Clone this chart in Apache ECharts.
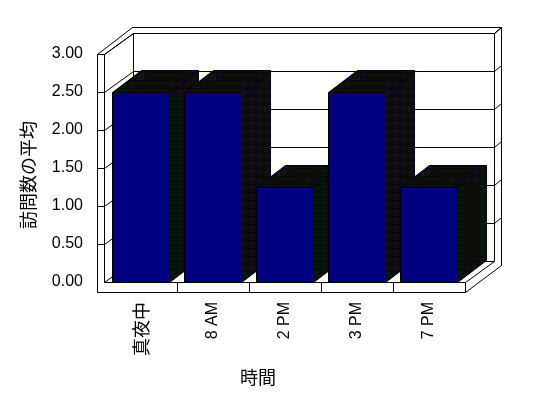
<!DOCTYPE html>
<html><head><meta charset="utf-8">
<script src="https://cdn.jsdelivr.net/npm/echarts@6/dist/echarts.min.js"></script>
<style>html,body{margin:0;padding:0;background:#fff}#c{width:548px;height:398px}</style>
</head><body><div id="c"></div>
<script>
const categories = ['真夜中', '8 AM', '2 PM', '3 PM', '7 PM'];
const values = [2.5, 2.5, 1.25, 2.5, 1.25];
const yTicks = [0, 0.5, 1, 1.5, 2, 2.5, 3];
const yTitle = '訪問数の平均';
const xTitle = '時間';

// 3D styling constants
const DX = 29, DY = -21, BDY = -22;
const BX = 7, BY = -6;
const WT = 7, FT = 10;
const LINE = {stroke: '#000', lineWidth: 1, fill: null};

const pc = document.createElement('canvas');
pc.width = 2; pc.height = 2;
const g2 = pc.getContext('2d');
g2.fillStyle = '#000'; g2.fillRect(0, 0, 2, 2);
g2.fillStyle = '#000080'; g2.fillRect(1, 0, 1, 1); g2.fillRect(0, 1, 1, 1);
const dither = {image: pc, repeat: 'repeat'};

function snap(v) { return Math.round(v) + 0.5; }
function line(x1, y1, x2, y2) {
  return {type: 'line', shape: {x1, y1, x2, y2}, style: LINE, silent: true};
}
function poly(points, fill) {
  return {type: 'polygon', shape: {points}, style: {fill, stroke: '#000', lineWidth: 1}, silent: true};
}

function renderWalls(params, api) {
  const n = categories.length;
  const bw = api.size([1, 0])[0];
  const yMax = yTicks[yTicks.length - 1];
  const l = Math.round(api.coord([0, 0])[0] - bw / 2) - 0.5;
  const r = snap(api.coord([n - 1, 0])[0] + bw / 2);
  const b = snap(api.coord([0, 0])[1]);
  const t = snap(api.coord([0, yMax])[1]);
  const ol = l - WT, fb = b + FT;
  const bl = l + DX, br = r + DX, bt = t + DY, bb = b + DY;
  const ch = [];
  ch.push(poly([[ol, t], [ol + DX + 6, bt + BY], [br + BX, bt + BY], [br + BX, fb + DY + BY], [r, fb], [ol, fb]], '#fff'));
  ch.push(poly([[bl, bt], [br, bt], [br, bb], [bl, bb]], '#fff'));
  ch.push(line(l, t, bl, bt));
  ch.push(line(ol, t, l, t));
  ch.push(line(l, t, l, b));
  ch.push(line(l, b, r, b));
  ch.push(line(r, b, r, fb));
  ch.push(line(r, b, br, bb));
  ch.push(line(l, b, bl, bb));
  ch.push(line(br, bt, br + BX, bt + BY));
  yTicks.forEach(v => {
    if (v === 0) return;
    const y = snap(api.coord([0, v])[1]);
    ch.push(line(ol, y, l, y));
    ch.push(line(l, y, bl, y + DY));
    ch.push(line(bl, y + DY, br, y + DY));
    ch.push(line(br, y + DY, br + BX, y + DY + BY));
  });
  for (let i = 1; i < n; i++) {
    const x = snap(api.coord([i, 0])[0] - bw / 2);
    ch.push(line(x, b, x, fb));
  }
  return {type: 'group', children: ch};
}

function renderBar(params, api) {
  const i = api.value(0), v = api.value(1);
  const c = api.coord([i, v]);
  const z = api.coord([i, 0]);
  const bw = api.size([1, 0])[0];
  const w = bw * 0.79;
  const xl = Math.floor(c[0] - w / 2) + 0.5;
  const xr = Math.floor(c[0] + w / 2) + 0.5;
  const yt = snap(c[1]), yb = snap(z[1]);
  return {type: 'group', children: [
    poly([[xr, yt], [xr + DX, yt + BDY], [xr + DX, yb + BDY], [xr, yb]], dither),
    poly([[xl, yt], [xl + DX, yt + BDY], [xr + DX, yt + BDY], [xr, yt]], dither),
    poly([[xl, yt], [xr, yt], [xr, yb], [xl, yb]], '#000080')
  ]};
}

const chart = echarts.init(document.getElementById('c'));
chart.setOption({
  animation: false,
  backgroundColor: '#fff',
  grid: {left: 105, right: 83, top: 54, bottom: 116},
  xAxis: {
    type: 'category', data: categories,
    axisLine: {show: false}, axisTick: {show: false}, splitLine: {show: false},
    axisLabel: {
      interval: 0, rotate: 90, margin: 20, color: '#000',
      fontFamily: 'Liberation Sans', fontSize: 16,
      formatter: s => /[^\x00-\x7f]/.test(s) ? '{j|' + s + '}' : s,
      rich: {j: {fontFamily: 'Noto Sans CJK JP', fontSize: 18, color: '#000'}}
    }
  },
  yAxis: {
    type: 'value', min: yTicks[0], max: yTicks[yTicks.length - 1], interval: yTicks[1] - yTicks[0],
    axisLine: {show: false}, axisTick: {show: false}, splitLine: {show: false},
    axisLabel: {formatter: v => v.toFixed(2), color: '#000', fontFamily: 'Liberation Sans', fontSize: 16, margin: 22}
  },
  graphic: [
    {type: 'text', x: 28, y: 175, rotation: Math.PI / 2,
     style: {text: yTitle, font: '18px "Noto Sans CJK JP"', fill: '#000', align: 'center', verticalAlign: 'middle'}},
    {type: 'text', x: 258, y: 377,
     style: {text: xTitle, font: '18px "Noto Sans CJK JP"', fill: '#000', align: 'center', verticalAlign: 'middle'}}
  ],
  series: [
    {type: 'custom', renderItem: renderWalls, data: [[0, 0]], clip: false, silent: true, z: 1},
    {type: 'custom', renderItem: renderBar, data: values.map((v, i) => [i, v]), clip: false, silent: true, z: 2}
  ]
});
</script>
</body></html>
